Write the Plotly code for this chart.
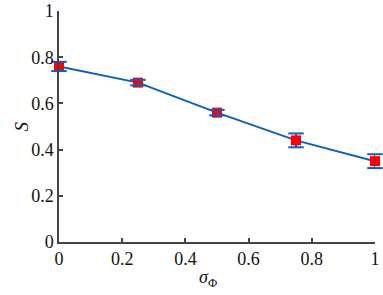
import plotly.graph_objects as go

sigma_phi = [0, 0.25, 0.5, 0.75, 1.0]
S_values = [0.76, 0.69, 0.56, 0.44, 0.35]
S_errors = [0.02, 0.012, 0.012, 0.03, 0.03]

x_ticks = [0, 0.2, 0.4, 0.6, 0.8, 1]
x_ticktext = ["0", "0.2", "0.4", "0.6", "0.8", "1"]
y_ticks = [0, 0.2, 0.4, 0.6, 0.8, 1]
y_ticktext = ["0", "0.2", "0.4", "0.6", "0.8", "1"]

blue = "#0a5fbf"
font = "Liberation Serif"

cap_x = sigma_phi + sigma_phi
cap_y = [v + e for v, e in zip(S_values, S_errors)] + [v - e for v, e in zip(S_values, S_errors)]

fig = go.Figure()
fig.add_trace(go.Scatter(
    x=sigma_phi, y=S_values, mode="lines",
    line=dict(color=blue, width=2),
    error_y=dict(type="data", array=S_errors, color=blue, thickness=2, width=0),
    cliponaxis=False, showlegend=False,
))
fig.add_trace(go.Scatter(
    x=sigma_phi, y=S_values, mode="markers",
    marker=dict(symbol="square", size=10, color="#ff0000"),
    cliponaxis=False, showlegend=False,
))
fig.add_trace(go.Scatter(
    x=cap_x, y=cap_y, mode="markers",
    marker=dict(symbol="line-ew", size=11, line=dict(color=blue, width=2)),
    cliponaxis=False, showlegend=False,
))

axis_common = dict(
    showline=True, linecolor="#444444", linewidth=1.5,
    ticks="inside", ticklen=4, tickcolor="#444444", tickwidth=1.5,
    showgrid=False, zeroline=False, automargin=False,
    tickfont=dict(family=font, size=18, color="#111111"),
)
fig.update_layout(
    width=383, height=295,
    margin=dict(l=59, r=8, t=11, b=53),
    paper_bgcolor="white", plot_bgcolor="white",
    xaxis=dict(range=[0, 1.0001], tickvals=x_ticks, ticktext=x_ticktext, **axis_common),
    yaxis=dict(range=[0, 1.0001], tickvals=y_ticks, ticktext=y_ticktext, **axis_common),
    annotations=[
        dict(text="<i>σ</i><sub>Φ</sub>", xref="paper", yref="paper", x=0.47, y=-0.1,
             xanchor="center", yanchor="top", showarrow=False,
             font=dict(family=font, size=18, color="#111111")),
        dict(text="<i>S</i>", xref="paper", yref="paper", x=-0.12, y=0.5,
             xanchor="center", yanchor="middle", showarrow=False, textangle=-90,
             font=dict(family=font, size=19, color="#111111")),
    ],
)
fig.write_html("out.html", config={"displayModeBar": False},
               post_script="document.body.style.margin='0';")
